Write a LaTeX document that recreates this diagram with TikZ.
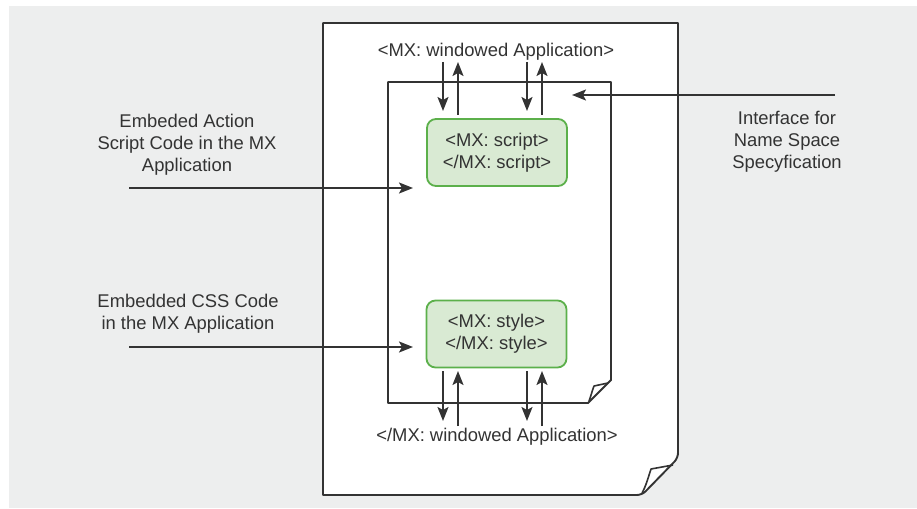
\documentclass[tikz,border=0pt]{standalone}
\usepackage{fontspec}
\setmainfont{Liberation Sans}
\usetikzlibrary{arrows.meta}

\definecolor{panel}{RGB}{237,238,238}
\definecolor{ink}{RGB}{51,51,51}
\definecolor{tagfill}{RGB}{217,234,211}
\definecolor{tagline}{RGB}{92,176,75}

\tikzset{
  txt/.style={text=ink, font=\fontsize{18.4}{22}\selectfont, align=center, inner sep=0pt},
  tagbox/.style={draw=tagline, fill=tagfill, line width=1.8pt, rounded corners=9pt,
    minimum width=140pt, minimum height=67pt, text=ink,
    font=\fontsize{18.4}{22}\selectfont, align=center},
  sheet/.style={draw=ink, fill=white, line width=1.9pt, line join=round},
  flow/.style={draw=ink, line width=1.9pt, -{Stealth[length=14pt,width=11pt,inset=3pt]}}
}

\begin{document}
\begin{tikzpicture}[x=1pt,y=-1pt]
\useasboundingbox (0,0) rectangle (917,508);
\fill[panel] (9,6) rectangle (917,508);

% outer document page with curled corner
\draw[sheet] (323,23) -- (678,23) -- (678,452) [rounded corners=5pt] -- (678,458) -- (642,495) [sharp corners] -- (323,495) -- cycle;
\draw[ink, line width=1.6pt, line join=round] (673,465) -- (651,469) .. controls (648,478) and (646,486) .. (642,493);

% inner document page with curled corner
\draw[sheet] (388,82) -- (611,82) -- (611,380) -- (588,403) -- (388,403) -- cycle;
\draw[ink, line width=1.6pt, line join=round] (608,383) -- (594,386) .. controls (592,391) and (591,396) .. (589,401);

% labels
\node[txt] (open) at (496,52) {<MX: windowed Application>};
\node[txt] (close) at (497,437) {</MX: windowed Application>};
\node[txt] (actxt) at (187,144.5) {Embeded Action\\Script Code in the MX\\Application};
\node[txt] (csstxt) at (188,314) {Embedded CSS Code\\in the MX Application};
\node[txt] (nstxt) at (787,141.5) {Interface for\\Name Space\\Specyfication};

% tag boxes
\node[tagbox] (script) at (497,152.5) {<MX: script>\\</MX: script>};
\node[tagbox] (style) at (496.5,334) {<MX: style>\\</MX: style>};

% arrow end points
\coordinate (s1a) at (443,62);  \coordinate (s1b) at (443,111);
\coordinate (s2a) at (458,115); \coordinate (s2b) at (458,62);
\coordinate (s3a) at (527,62);  \coordinate (s3b) at (527,111);
\coordinate (s4a) at (542,115); \coordinate (s4b) at (542,62);

\coordinate (t1a) at (443,371); \coordinate (t1b) at (443,421);
\coordinate (t2a) at (458,426); \coordinate (t2b) at (458,371);
\coordinate (t3a) at (527,371); \coordinate (t3b) at (527,421);
\coordinate (t4a) at (542,426); \coordinate (t4b) at (542,371);

\coordinate (acin) at (129,188);  \coordinate (acend) at (413,188);
\coordinate (cssin) at (129,347); \coordinate (cssend) at (413,347);
\coordinate (nsin) at (835,95);   \coordinate (nsend) at (572,95);

% connectors
\draw[flow] (s1a) -- (s1b);
\draw[flow] (s2a) -- (s2b);
\draw[flow] (s3a) -- (s3b);
\draw[flow] (s4a) -- (s4b);
\draw[flow] (t1a) -- (t1b);
\draw[flow] (t2a) -- (t2b);
\draw[flow] (t3a) -- (t3b);
\draw[flow] (t4a) -- (t4b);
\draw[flow] (acin) -- (acend);
\draw[flow] (cssin) -- (cssend);
\draw[flow] (nsin) -- (nsend);
\end{tikzpicture}
\end{document}
